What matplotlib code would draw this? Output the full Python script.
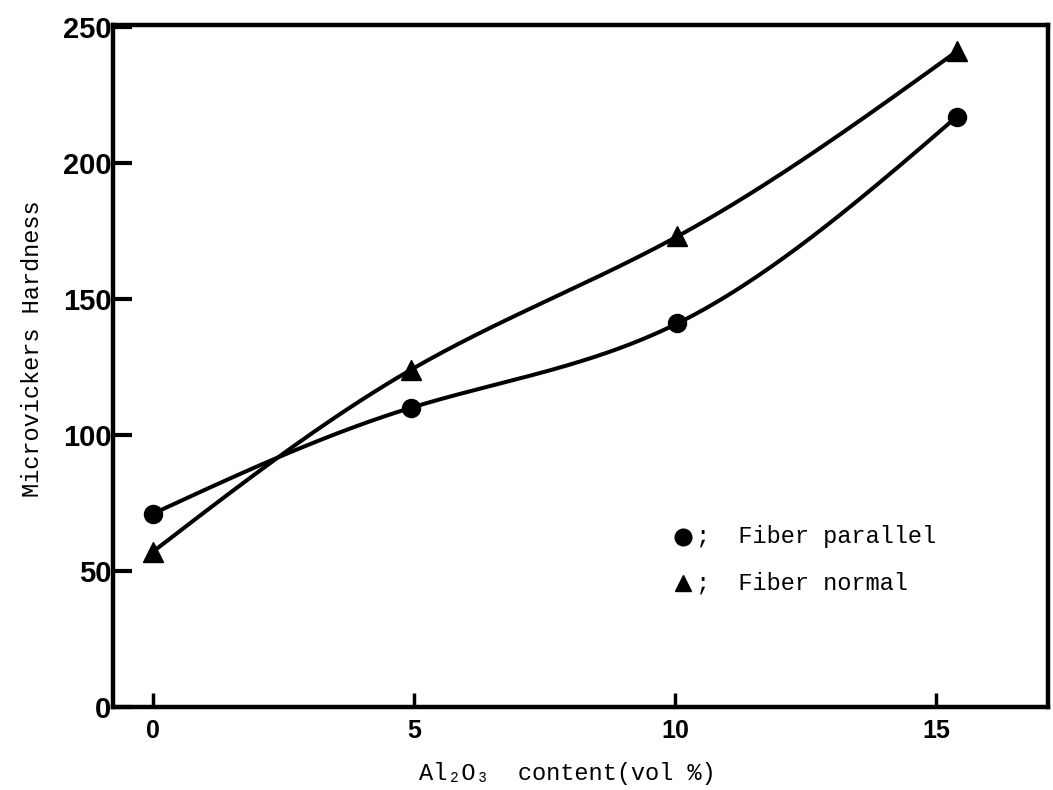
import numpy as np
import matplotlib
matplotlib.use("Agg")
import matplotlib.pyplot as plt

# Data
al2o3_content = [0.0, 4.95, 10.05, 15.4]
hardness_parallel = [71, 110, 141, 217]
hardness_normal = [57, 124, 173, 241]
x_ticks = [0, 5, 10, 15]
y_ticks = [0, 50, 100, 150, 200, 250]
legend_labels = ["Fiber parallel", "Fiber normal"]


def natural_spline(x, y, n=300):
    x = np.asarray(x, float)
    y = np.asarray(y, float)
    k = len(x)
    h = np.diff(x)
    A = np.zeros((k, k))
    b = np.zeros(k)
    A[0, 0] = A[-1, -1] = 1
    for i in range(1, k - 1):
        A[i, i - 1] = h[i - 1]
        A[i, i] = 2 * (h[i - 1] + h[i])
        A[i, i + 1] = h[i]
        b[i] = 6 * ((y[i + 1] - y[i]) / h[i] - (y[i] - y[i - 1]) / h[i - 1])
    M = np.linalg.solve(A, b)
    xs = np.linspace(x[0], x[-1], n)
    ys = np.empty_like(xs)
    for j, xv in enumerate(xs):
        i = min(np.searchsorted(x, xv, side="right") - 1, k - 2)
        t1 = x[i + 1] - xv
        t0 = xv - x[i]
        ys[j] = (M[i] * t1 ** 3 + M[i + 1] * t0 ** 3) / (6 * h[i]) \
            + (y[i] / h[i] - M[i] * h[i] / 6) * t1 \
            + (y[i + 1] / h[i] - M[i + 1] * h[i] / 6) * t0
    return xs, ys


mono = ["Liberation Mono", "DejaVu Sans Mono"]
fig = plt.figure(figsize=(10.53, 7.90), dpi=100)
ax = fig.add_axes([0.1073, 0.1051, 0.8877, 0.8633])

lw = 2.9
for yvals, mk in [(hardness_parallel, "o"), (hardness_normal, "^")]:
    xs, ys = natural_spline(al2o3_content, yvals)
    ax.plot(xs, ys, color="black", lw=lw, solid_capstyle="round", zorder=2)
    ax.plot(al2o3_content, yvals, linestyle="none", marker=mk, color="black",
            markersize=13 if mk == "o" else 14, zorder=3)

ax.set_xlim(-0.76, 17.14)
ax.set_ylim(0, 250.7)
ax.set_xticks(x_ticks)
ax.set_yticks(y_ticks)
ax.set_xticklabels([str(v) for v in x_ticks], fontsize=18, fontweight="bold",
                   family="Liberation Sans")
ax.set_yticklabels([str(v) for v in y_ticks], fontsize=21, fontweight="bold",
                   family="Liberation Sans")
ax.tick_params(axis="y", direction="in", length=14, width=3, pad=1)
ax.tick_params(axis="x", direction="in", length=10, width=2.5, pad=9)
for s in ax.spines.values():
    s.set_linewidth(3.2)
    s.set_color("black")

ax.set_xlabel("Al\u2082O\u2083  content(vol %)", fontsize=17, family=mono)
ax.xaxis.set_label_coords(0.4856, -0.080)
ax.set_ylabel("Microvickers Hardness", fontsize=17, family=mono)
ax.yaxis.set_label_coords(-0.0735, 0.526)

# Legend drawn as in the original
leg_x = (683 - 113) / 935
leg_y = [(707 - 537) / 682, (707 - 583) / 682]
for yy, mk, lab in zip(leg_y, ["o", "^"], legend_labels):
    ax.plot([leg_x], [yy], transform=ax.transAxes, marker=mk, color="black",
            markersize=12, linestyle="none", clip_on=False)
    ax.text(leg_x + 0.0139, yy, ";  " + lab, transform=ax.transAxes,
            fontsize=17, family=mono, va="center", ha="left")

fig.savefig("out.png", dpi=100, facecolor="white")
